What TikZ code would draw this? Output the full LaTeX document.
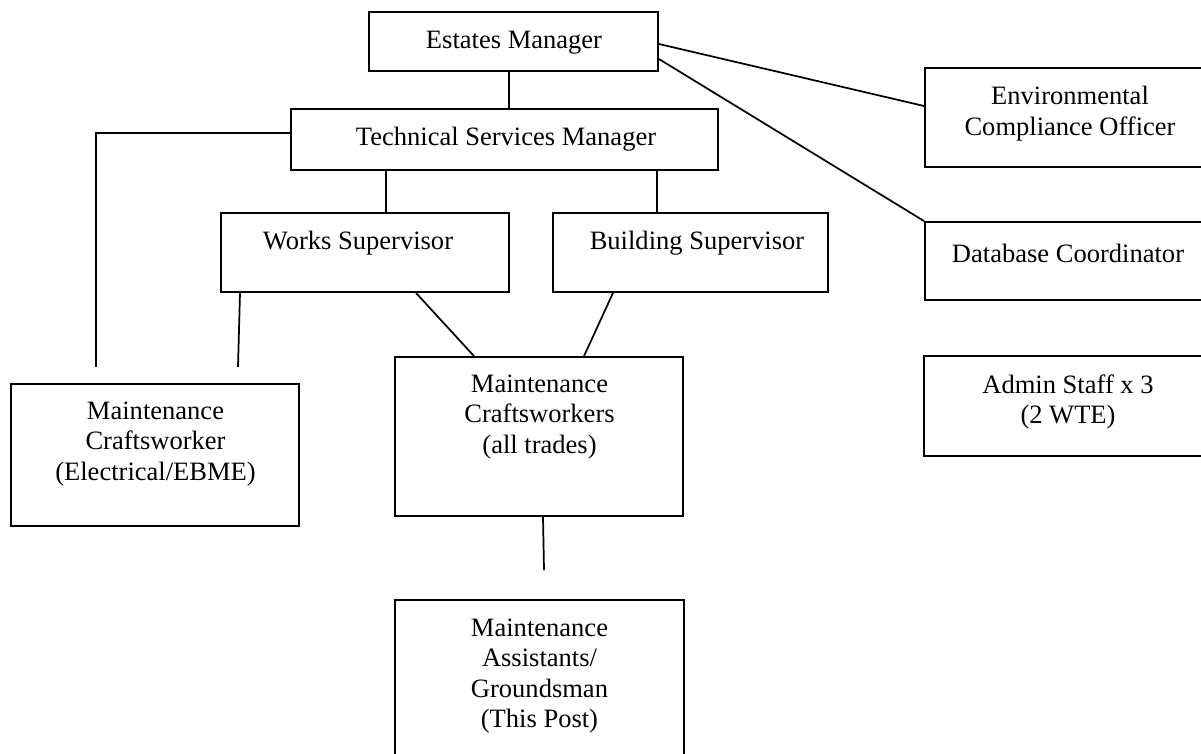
\documentclass[tikz,border=0pt]{standalone}
\usepackage{fontspec}
\setmainfont{Liberation Serif}
\usetikzlibrary{fit,calc}
\begin{document}
\begin{tikzpicture}[x=0.75pt,y=-0.75pt,
  box/.style={draw, line width=1.4pt, inner sep=0pt},
  lbl/.style={align=center, inner sep=0pt, font=\fontsize{19.9}{22.7}\selectfont},
  conn/.style={line width=1.3pt}]
\useasboundingbox (0,0) rectangle (1201,753);
\clip (0,0) rectangle (1201,753);
% boxes
\node[box, fit={(369,12)(658,71)}] (em) {};
\node[box, fit={(291,109)(718,170)}] (tsm) {};
\node[box, fit={(925,68)(1215,167)}] (eco) {};
\node[box, fit={(221,213)(509,292)}] (ws) {};
\node[box, fit={(553,213)(828,292)}] (bs) {};
\node[box, fit={(925,222)(1215,300)}] (dc) {};
\node[box, fit={(11,384)(299,526)}] (elec) {};
\node[box, fit={(395,357)(683,516)}] (mc) {};
\node[box, fit={(924,356)(1215,456)}] (adm) {};
\node[box, fit={(395,600)(684,780)}] (ma) {};
% labels
\node[lbl] (emt) at (514,43) {Estates Manager};
\node[lbl] (tsmt) at (506,139) {Technical Services Manager};
\node[lbl] (ecot) at (1070,113.5) {Environmental\\Compliance Officer};
\node[lbl] (wst) at (358,243) {Works Supervisor};
\node[lbl] (bst) at (697,243) {Building Supervisor};
\node[lbl] (dct) at (1068,253) {Database Coordinator};
\node[lbl] (elect) at (155.5,444) {Maintenance\\Craftsworker\\(Electrical/EBME)};
\node[lbl] (mct) at (539.5,417) {Maintenance\\Craftsworkers\\(all trades)};
\node[lbl] (admt) at (1068,402) {Admin Staff x 3\\(2 WTE)};
\node[lbl] (mat) at (539.5,676) {Maintenance\\Assistants/\\Groundsman\\(This Post)};
% free ends
\coordinate (lend) at (96,367);
\coordinate (wsend) at (238,367);
\coordinate (mcend) at (544,570);
% connectors
\draw[conn] (em.south -| 509,0) -- (tsm.north -| 509,0);
\draw[conn] (em.east |- 0,44) -- (eco.west |- 0,106);
\draw[conn] (em.east |- 0,59) -- (dc.north west);
\draw[conn] (tsm.west |- 0,133) -- (lend |- 0,133) -- (lend);
\draw[conn] (tsm.south -| 386,0) -- (ws.north -| 386,0);
\draw[conn] (tsm.south -| 657,0) -- (bs.north -| 657,0);
\draw[conn] (ws.south -| 240,0) -- (wsend);
\draw[conn] (ws.south -| 416,0) -- (mc.north -| 474,0);
\draw[conn] (bs.south -| 613,0) -- (mc.north -| 584,0);
\draw[conn] (mc.south -| 543,0) -- (mcend);
\end{tikzpicture}
\end{document}
